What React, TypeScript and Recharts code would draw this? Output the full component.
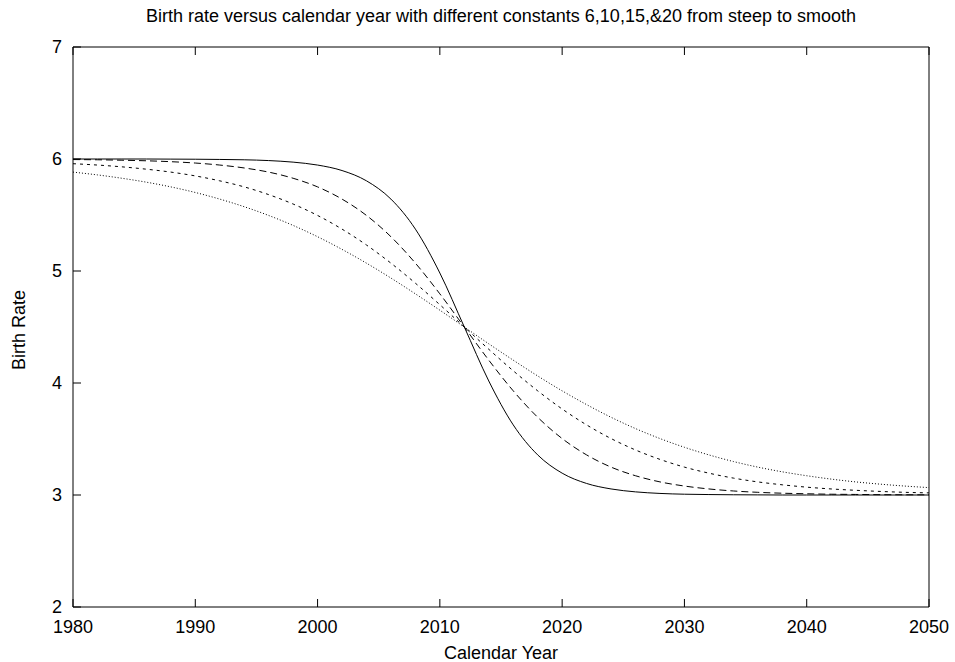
import React from "react";
import { LineChart, Line, XAxis, YAxis } from "recharts";

// Calendar years sampled every 2 years
const years = [
  1980, 1982, 1984, 1986, 1988, 1990, 1992, 1994, 1996, 1998, 2000, 2002,
  2004, 2006, 2008, 2010, 2012, 2014, 2016, 2018, 2020, 2022, 2024, 2026,
  2028, 2030, 2032, 2034, 2036, 2038, 2040, 2042, 2044, 2046, 2048, 2050,
];

// Birth rate curves, constant 6 (steep) ... 20 (smooth)
const rateC6 = [
  6.0, 6.0, 6.0, 6.0, 5.999, 5.998, 5.996, 5.993, 5.986, 5.972, 5.946, 5.897,
  5.805, 5.642, 5.374, 4.982, 4.5, 4.018, 3.626, 3.358, 3.195, 3.103, 3.054,
  3.028, 3.014, 3.007, 3.004, 3.002, 3.001, 3.0, 3.0, 3.0, 3.0, 3.0, 3.0, 3.0,
];
const rateC10 = [
  5.995, 5.993, 5.989, 5.984, 5.976, 5.964, 5.946, 5.92, 5.883, 5.828, 5.751,
  5.642, 5.496, 5.306, 5.07, 4.796, 4.5, 4.204, 3.93, 3.694, 3.504, 3.358,
  3.249, 3.172, 3.117, 3.08, 3.054, 3.036, 3.024, 3.016, 3.011, 3.007, 3.005,
  3.003, 3.002, 3.0015,
];
const rateC15 = [
  5.958, 5.946, 5.93, 5.909, 5.883, 5.849, 5.805, 5.751, 5.682, 5.598, 5.496,
  5.374, 5.232, 5.07, 4.891, 4.699, 4.5, 4.301, 4.109, 3.93, 3.768, 3.626,
  3.504, 3.402, 3.318, 3.249, 3.195, 3.151, 3.117, 3.091, 3.07, 3.054, 3.042,
  3.032, 3.024, 3.019,
];
const rateC20 = [
  5.883, 5.858, 5.828, 5.793, 5.751, 5.701, 5.642, 5.574, 5.496, 5.407, 5.306,
  5.193, 5.07, 4.937, 4.796, 4.65, 4.5, 4.35, 4.204, 4.063, 3.93, 3.807, 3.694,
  3.593, 3.504, 3.426, 3.358, 3.299, 3.249, 3.207, 3.172, 3.142, 3.117, 3.097,
  3.08, 3.066,
];

const xTicks = [1980, 1990, 2000, 2010, 2020, 2030, 2040, 2050];
const yTicks = [2, 3, 4, 5, 6, 7];

const title =
  "Birth rate versus calendar year with different constants 6,10,15,&20 from steep to smooth";

const data = years.map((year, i) => ({
  year,
  c6: rateC6[i],
  c10: rateC10[i],
  c15: rateC15[i],
  c20: rateC20[i],
}));

const FONT = "'Liberation Sans', Arial, Helvetica, sans-serif";
const TICK = 8; // inward tick length
const X_GAP = 13;
const Y_GAP = 11;

// gnuplot style: tick marks point into the plot, labels outside
const BottomTick = ({ x, y, payload }: any) => (
  <g>
    <line x1={x} x2={x} y1={y - X_GAP} y2={y - X_GAP - TICK} stroke="#000" />
    <text
      x={x}
      y={y}
      dy="0.72em"
      textAnchor="middle"
      fontSize={18}
      fontFamily={FONT}
      fill="#000"
    >
      {payload.value}
    </text>
  </g>
);

const LeftTick = ({ x, y, payload }: any) => (
  <g>
    <line x1={x + Y_GAP} x2={x + Y_GAP + TICK} y1={y} y2={y} stroke="#000" />
    <text
      x={x}
      y={y}
      dy="0.36em"
      textAnchor="end"
      fontSize={18}
      fontFamily={FONT}
      fill="#000"
    >
      {payload.value}
    </text>
  </g>
);

const TopTick = ({ x, y }: any) => (
  <line x1={x} x2={x} y1={y} y2={y + TICK} stroke="#000" />
);

const RightTick = ({ x, y }: any) => (
  <line x1={x} x2={x - TICK} y1={y} y2={y} stroke="#000" />
);

export default function App() {
  return (
    <div style={{ position: "fixed", left: 0, top: 0, background: "#fff" }}>
      <LineChart
        width={955}
        height={662}
        data={data}
        margin={{ top: 46, right: 25, bottom: 0, left: 0 }}
      >
        <XAxis
          dataKey="year"
          type="number"
          domain={[1980, 2050]}
          ticks={xTicks}
          height={55}
          tickSize={0}
          tickMargin={X_GAP}
          tickLine={false}
          tick={<BottomTick />}
          axisLine={{ stroke: "#000" }}
          label={{
            content: ({ viewBox }: any) => (
              <text
                x={viewBox.x + viewBox.width / 2}
                y={viewBox.y + 52}
                textAnchor="middle"
                fontSize={18}
                fontFamily={FONT}
                fill="#000"
              >
                Calendar Year
              </text>
            ),
          }}
        />
        <XAxis
          xAxisId="top"
          dataKey="year"
          type="number"
          orientation="top"
          domain={[1980, 2050]}
          ticks={xTicks}
          height={1}
          tickSize={0}
          tickMargin={0}
          tickLine={false}
          tick={<TopTick />}
          axisLine={{ stroke: "#000" }}
          label={{
            content: ({ viewBox }: any) => (
              <text
                x={viewBox.x + viewBox.width / 2}
                y={viewBox.y - 24}
                textAnchor="middle"
                fontSize={18}
                fontFamily={FONT}
                fill="#000"
              >
                {title}
              </text>
            ),
          }}
        />
        <YAxis
          type="number"
          domain={[2, 7]}
          ticks={yTicks}
          width={73}
          tickSize={0}
          tickMargin={Y_GAP}
          tickLine={false}
          tick={<LeftTick />}
          axisLine={{ stroke: "#000" }}
          label={{
            content: ({ viewBox }: any) => {
              const cx = viewBox.x + 25;
              const cy = viewBox.y + viewBox.height / 2 + 3;
              return (
                <text
                  x={cx}
                  y={cy}
                  transform={`rotate(-90, ${cx}, ${cy})`}
                  textAnchor="middle"
                  fontSize={18}
                  fontFamily={FONT}
                  fill="#000"
                >
                  Birth Rate
                </text>
              );
            },
          }}
        />
        <YAxis
          yAxisId="right"
          orientation="right"
          type="number"
          domain={[2, 7]}
          ticks={yTicks}
          width={1}
          tickSize={0}
          tickMargin={0}
          tickLine={false}
          tick={<RightTick />}
          axisLine={{ stroke: "#000" }}
        />
        <Line
          type="monotone"
          dataKey="c6"
          stroke="#000"
          strokeWidth={1}
          dot={false}
          isAnimationActive={false}
        />
        <Line
          type="monotone"
          dataKey="c10"
          stroke="#000"
          strokeWidth={1}
          strokeDasharray="7 4"
          dot={false}
          isAnimationActive={false}
        />
        <Line
          type="monotone"
          dataKey="c15"
          stroke="#000"
          strokeWidth={1}
          strokeDasharray="3 4"
          dot={false}
          isAnimationActive={false}
        />
        <Line
          type="monotone"
          dataKey="c20"
          stroke="#000"
          strokeWidth={1}
          strokeDasharray="1 2"
          dot={false}
          isAnimationActive={false}
        />
      </LineChart>
    </div>
  );
}
